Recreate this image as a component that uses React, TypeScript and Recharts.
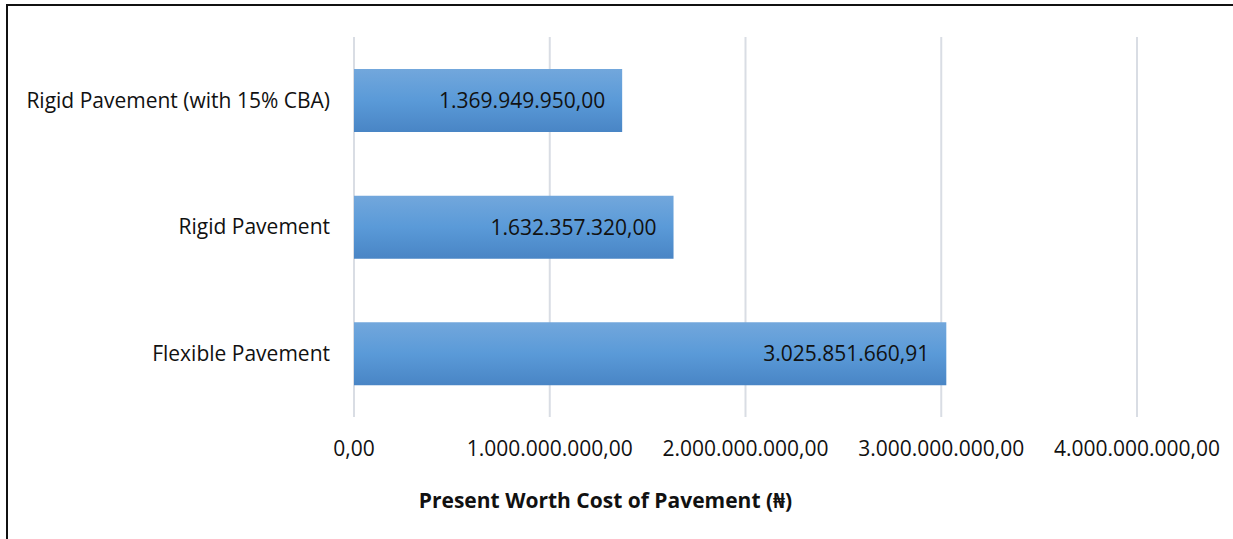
import { Bar, BarChart, CartesianGrid, LabelList, XAxis, YAxis } from 'recharts'

const categories = ['Rigid Pavement (with 15% CBA)', 'Rigid Pavement', 'Flexible Pavement']
const costs = [1369949950.0, 1632357320.0, 3025851660.91]
const xTicks = [0, 1000000000, 2000000000, 3000000000, 4000000000]

const data = categories.map((name, i) => ({ name, cost: costs[i] }))

const FONT = '"Open Sans", "Noto Sans", sans-serif'

// 1234567.5 -> "1.234.567,50"
function formatNumber(v: number) {
  const fixed = Number(v).toFixed(2)
  const [int, dec] = fixed.split('.')
  return int.replace(/\B(?=(\d{3})+(?!\d))/g, '.') + ',' + dec
}

export default function App() {
  return (
    <div style={{ position: 'absolute', left: 0, top: 0, width: 1233, height: 539, overflow: 'hidden', background: '#fff' }}>
      <div
        style={{
          position: 'absolute',
          left: 6,
          top: 4,
          width: 1300,
          height: 600,
          border: '2px solid #111',
        }}
      />
      <div style={{ position: 'absolute', left: 0, top: 0 }}>
        <BarChart
          width={1233}
          height={539}
          data={data}
          layout="vertical"
          margin={{ top: 37, right: 96, bottom: 0, left: 0 }}
        >
          <defs>
            <linearGradient id="barFill" x1="0" y1="0" x2="0" y2="1">
              <stop offset="0%" stopColor="#72a7dc" />
              <stop offset="50%" stopColor="#5a9ad8" />
              <stop offset="100%" stopColor="#4985c5" />
            </linearGradient>
          </defs>
          <CartesianGrid horizontal={false} stroke="#d9dde4" strokeWidth={2} />
          <XAxis
            type="number"
            domain={[0, 4000000000]}
            ticks={xTicks}
            tickFormatter={formatNumber}
            axisLine={false}
            tickLine={false}
            tickSize={0}
            tickMargin={24}
            height={122}
            interval={0}
            tick={{ fill: '#111', fontSize: 21, fontFamily: FONT }}
            label={{
              value: 'Present Worth Cost of Pavement (₦)',
              position: 'insideBottom',
              offset: 31,
              dx: -140,
              fill: '#111',
              fontSize: 21,
              fontWeight: 'bold',
              fontFamily: FONT,
            }}
          />
          <YAxis
            type="category"
            dataKey="name"
            width={354}
            axisLine={false}
            tickLine={false}
            tickSize={0}
            tickMargin={24}
            tick={{ fill: '#111', fontSize: 21, fontFamily: FONT }}
          />
          <Bar dataKey="cost" fill="url(#barFill)" barSize={63} isAnimationActive={false}>
            <LabelList
              dataKey="cost"
              position="insideRight"
              offset={17}
              formatter={(v: number) => formatNumber(v)}
              style={{ fill: '#111', fontSize: 21, fontFamily: FONT }}
            />
          </Bar>
        </BarChart>
      </div>
    </div>
  )
}
